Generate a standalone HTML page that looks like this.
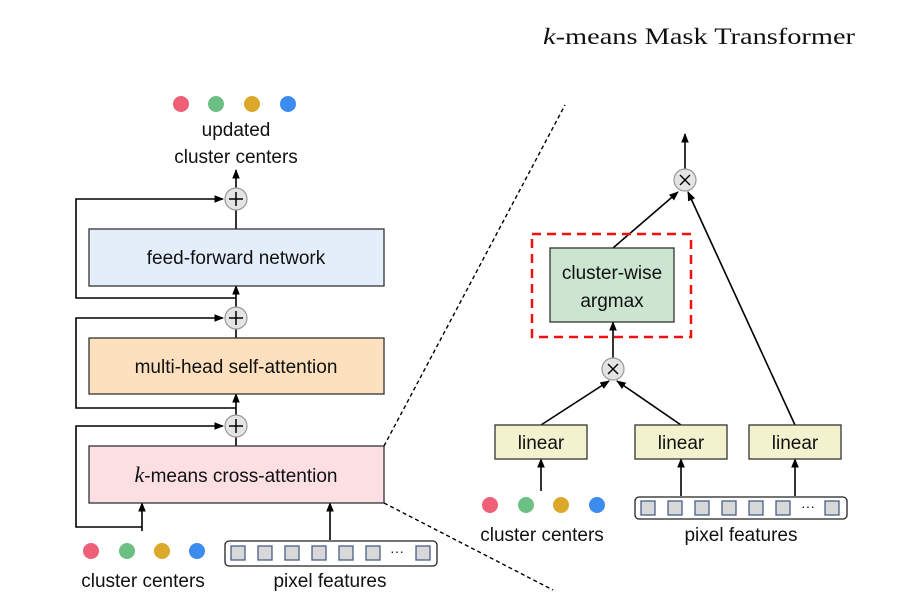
<!DOCTYPE html>
<html><head><meta charset="utf-8"><style>
html,body{margin:0;padding:0;background:#fff}
text{font-family:"Liberation Sans",sans-serif;fill:#111}
</style></head><body>
<svg width="914" height="608" viewBox="0 0 914 608" xmlns="http://www.w3.org/2000/svg">
<defs>
<marker id="a" viewBox="0 0 10 10" refX="9" refY="5" markerWidth="6" markerHeight="6" orient="auto"><path d="M0,1 L10,5 L0,9 z" fill="#000"/></marker>
</defs>
<text x="543" y="44" font-size="23" textLength="312" lengthAdjust="spacingAndGlyphs" style="font-family:'Liberation Serif',serif"><tspan font-style="italic">k</tspan>-means Mask Transformer</text>

<g fill="none" stroke="#000" stroke-width="1.6">
<circle cx="181" cy="104" r="8" fill="#ef5f78" stroke="none"/>
<circle cx="216" cy="104" r="8" fill="#6cc083" stroke="none"/>
<circle cx="252" cy="104" r="8" fill="#dca82a" stroke="none"/>
<circle cx="288" cy="104" r="8" fill="#3c8cef" stroke="none"/>
<line x1="236" y1="188" x2="236" y2="170" marker-end="url(#a)"/>
<line x1="236" y1="229" x2="236" y2="210"/>
<line x1="236" y1="338" x2="236" y2="329"/>
<line x1="236" y1="446" x2="236" y2="437"/>
<line x1="236" y1="415" x2="236" y2="394" marker-end="url(#a)"/>
<line x1="236" y1="307" x2="236" y2="286" marker-end="url(#a)"/>
<polyline points="236,298 76,298 76,199 223,199" marker-end="url(#a)"/>
<polyline points="236,408 76,408 76,318 223,318" marker-end="url(#a)"/>
<polyline points="142,527 76,527 76,426 223,426" marker-end="url(#a)"/>
<line x1="142" y1="531" x2="142" y2="503" marker-end="url(#a)"/>
<line x1="330" y1="540" x2="330" y2="503" marker-end="url(#a)"/>
</g>
<rect x="89" y="229" width="295" height="57" fill="#e4eefb" stroke="#333" stroke-width="1.3"/>
<rect x="89" y="338" width="295" height="56" fill="#fde0bd" stroke="#333" stroke-width="1.3"/>
<rect x="89" y="446" width="295" height="57" fill="#fbdfe2" stroke="#333" stroke-width="1.3"/>
<text x="236" y="264" font-size="19" text-anchor="middle">feed-forward network</text>
<text x="236" y="373" font-size="19" text-anchor="middle">multi-head self-attention</text>
<text x="236" y="482" font-size="19" text-anchor="middle"><tspan font-style="italic" style="font-family:'Liberation Serif',serif" font-size="22">k</tspan>-means cross-attention</text>
<g fill="#e4e4e4" stroke="#999" stroke-width="1.2">
<circle cx="236" cy="199" r="11"/><circle cx="236" cy="318" r="11"/><circle cx="236" cy="426" r="11"/>
</g>
<g stroke="#000" stroke-width="1.5">
<path d="M229,199h14M236,192v14M229,318h14M236,311v14M229,426h14M236,419v14"/>
</g>
<text x="236" y="136" font-size="19" text-anchor="middle">updated</text>
<text x="236" y="163" font-size="19" text-anchor="middle">cluster centers</text>
<circle cx="91" cy="551" r="8" fill="#ef5f78"/><circle cx="127" cy="551" r="8" fill="#6cc083"/>
<circle cx="162" cy="551" r="8" fill="#dca82a"/><circle cx="197" cy="551" r="8" fill="#3c8cef"/>
<text x="143" y="587" font-size="19" text-anchor="middle">cluster centers</text>
<rect x="225" y="541" width="212" height="25" rx="4" fill="#fff" stroke="#222" stroke-width="1.3"/>
<g fill="#d8d8d8" stroke="#4a5f8a" stroke-width="1.3">
<rect x="231" y="546" width="14" height="14"/><rect x="258" y="546" width="14" height="14"/>
<rect x="285" y="546" width="14" height="14"/><rect x="312" y="546" width="14" height="14"/>
<rect x="339" y="546" width="14" height="14"/><rect x="366" y="546" width="14" height="14"/>
<rect x="416" y="546" width="14" height="14"/>
</g>
<text x="397" y="556" font-size="14" text-anchor="middle">···</text>
<text x="330" y="587" font-size="19" text-anchor="middle">pixel features</text>

<g stroke="#000" stroke-width="1.4" stroke-dasharray="4,3" fill="none">
<line x1="384" y1="446" x2="565" y2="105"/>
<line x1="384" y1="503" x2="553" y2="590"/>
</g>

<g fill="none" stroke="#000" stroke-width="1.6">
<line x1="685" y1="170" x2="685" y2="134" marker-end="url(#a)"/>
<line x1="613" y1="248" x2="678" y2="192" marker-end="url(#a)"/>
<line x1="795" y1="425" x2="688" y2="192" marker-end="url(#a)"/>
<line x1="613" y1="358" x2="613" y2="322" marker-end="url(#a)"/>
<line x1="541" y1="425" x2="609" y2="381" marker-end="url(#a)"/>
<line x1="681" y1="425" x2="617" y2="381" marker-end="url(#a)"/>
<line x1="541" y1="491" x2="541" y2="459" marker-end="url(#a)"/>
<line x1="681" y1="496" x2="681" y2="459" marker-end="url(#a)"/>
<line x1="795" y1="496" x2="795" y2="459" marker-end="url(#a)"/>
</g>
<rect x="532" y="234" width="159" height="103" fill="none" stroke="#f01010" stroke-width="2.5" stroke-dasharray="9,6"/>
<rect x="550" y="248" width="124" height="74" fill="#cbe5d0" stroke="#333" stroke-width="1.3"/>
<text x="612" y="279" font-size="19" text-anchor="middle">cluster-wise</text>
<text x="612" y="307" font-size="19" text-anchor="middle">argmax</text>
<g fill="#e4e4e4" stroke="#999" stroke-width="1.2">
<circle cx="685" cy="180" r="11"/><circle cx="613" cy="369" r="11"/>
</g>
<g stroke="#000" stroke-width="1.4">
<path d="M680,175l10,10M690,175l-10,10M608,364l10,10M618,364l-10,10"/>
</g>
<g fill="#f2f2cf" stroke="#333" stroke-width="1.3">
<rect x="495" y="425" width="92" height="34"/><rect x="635" y="425" width="92" height="34"/><rect x="749" y="425" width="92" height="34"/>
</g>
<text x="541" y="449" font-size="19" text-anchor="middle">linear</text>
<text x="681" y="449" font-size="19" text-anchor="middle">linear</text>
<text x="795" y="449" font-size="19" text-anchor="middle">linear</text>
<circle cx="490" cy="505" r="8" fill="#ef5f78"/><circle cx="526" cy="505" r="8" fill="#6cc083"/>
<circle cx="561" cy="505" r="8" fill="#dca82a"/><circle cx="597" cy="505" r="8" fill="#3c8cef"/>
<text x="542" y="541" font-size="19" text-anchor="middle">cluster centers</text>
<rect x="635" y="497" width="212" height="22" rx="4" fill="#fff" stroke="#222" stroke-width="1.3"/>
<g fill="#d8d8d8" stroke="#4a5f8a" stroke-width="1.3">
<rect x="641" y="501" width="14" height="14"/><rect x="668" y="501" width="14" height="14"/>
<rect x="695" y="501" width="14" height="14"/><rect x="722" y="501" width="14" height="14"/>
<rect x="749" y="501" width="14" height="14"/><rect x="776" y="501" width="14" height="14"/>
<rect x="825" y="501" width="14" height="14"/>
</g>
<text x="808" y="511" font-size="14" text-anchor="middle">···</text>
<text x="741" y="541" font-size="19" text-anchor="middle">pixel features</text>
</svg>
</body></html>
